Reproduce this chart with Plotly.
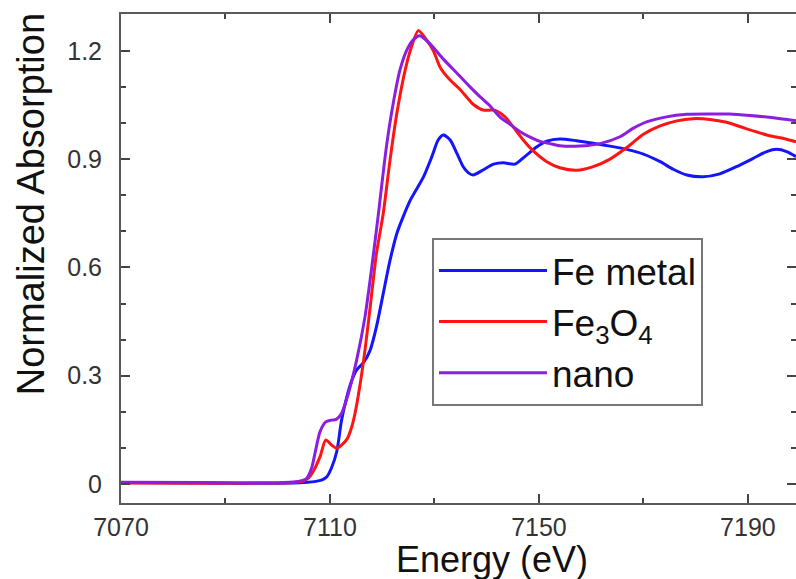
import plotly.graph_objects as go

# ---------------- data ----------------
fe_x = [7070, 7085, 7100, 7105, 7107.5, 7108.7, 7109.4, 7110.3, 7111.3, 7112.2, 7113.2,
        7114.0, 7115.1, 7116.4, 7117.7, 7118.9, 7120.2, 7121.5, 7122.8, 7124.0, 7125.4,
        7127.9, 7129.5, 7130.7, 7131.7, 7133.0, 7134.3, 7135.5, 7136.5, 7137.4, 7139.3,
        7141.3, 7143.2, 7145.4, 7147.3, 7149.6, 7151.5, 7154.0, 7157.2, 7160.4, 7163.6,
        7166.8, 7170.0, 7173.2, 7175.7, 7178.3, 7181.4, 7184.6, 7187.8, 7191.0, 7193.6,
        7195.5, 7197.4, 7199.2]
fe_y = [0.004, 0.003, 0.002, 0.004, 0.008, 0.013, 0.02, 0.045, 0.09, 0.175, 0.24,
        0.28, 0.316, 0.336, 0.371, 0.436, 0.528, 0.62, 0.694, 0.74, 0.787,
        0.851, 0.907, 0.953, 0.967, 0.953, 0.916, 0.879, 0.862, 0.856, 0.87,
        0.886, 0.89, 0.886, 0.907, 0.934, 0.95, 0.956, 0.951, 0.944, 0.936,
        0.927, 0.914, 0.893, 0.872, 0.856, 0.851, 0.859, 0.879, 0.902, 0.921,
        0.927, 0.921, 0.907]

fe3o4_x = [7070, 7085, 7100, 7103.5, 7104.9, 7106.0, 7106.8, 7108.1, 7109.2, 7110.3,
           7111.3, 7112.2, 7113.3, 7114.2, 7114.8, 7115.7, 7116.7, 7117.7, 7118.9, 7120.2,
           7121.5, 7122.8, 7124.4, 7125.6, 7126.9, 7128.5, 7129.8, 7131.1, 7133.0, 7134.9,
           7137.4, 7139.3, 7141.6, 7143.5, 7145.4, 7147.0, 7148.6, 7151.5, 7154.0, 7157.2,
           7160.4, 7163.6, 7166.8, 7170.0, 7173.2, 7176.4, 7179.5, 7182.7, 7185.9, 7189.5,
           7193.6, 7197.4, 7199.2]
fe3o4_y = [0.003, 0.002, 0.003, 0.005, 0.008, 0.018, 0.035, 0.076, 0.122, 0.108,
           0.099, 0.108, 0.125, 0.16, 0.196, 0.27, 0.371, 0.491, 0.639, 0.75,
           0.898, 1.027, 1.147, 1.211, 1.256, 1.23, 1.2, 1.154, 1.119, 1.093,
           1.052, 1.036, 1.035, 1.017, 0.983, 0.953, 0.927, 0.893, 0.876, 0.869,
           0.879, 0.900, 0.932, 0.969, 0.992, 1.006, 1.012, 1.010, 1.002, 0.985,
           0.967, 0.955, 0.948]

nano_x = [7070, 7085, 7100, 7103.5, 7105.5, 7106.5, 7107.2, 7108.1, 7109.2, 7110.3,
          7111.2, 7112.2, 7113.5, 7115.1, 7116.7, 7118.0, 7119.2, 7120.8, 7122.1, 7123.4,
          7124.7, 7125.9, 7127.2, 7129.1, 7131.7, 7134.5, 7136.8, 7138.7, 7140.6, 7142.5,
          7144.4, 7146.4, 7148.3, 7150.2, 7152.1, 7154.0, 7157.8, 7161.7, 7165.5, 7168.0,
          7170.6, 7174.4, 7178.3, 7182.7, 7186.5, 7190.4, 7194.5, 7199.2]
nano_y = [0.005, 0.004, 0.003, 0.006, 0.015, 0.045, 0.09, 0.145, 0.172, 0.177,
          0.179, 0.195, 0.25, 0.343, 0.463, 0.60, 0.74, 0.934, 1.054, 1.147,
          1.202, 1.23, 1.242, 1.22, 1.177, 1.135, 1.10, 1.073, 1.048, 1.017,
          0.997, 0.976, 0.961, 0.949, 0.943, 0.937, 0.936, 0.943, 0.962, 0.985,
          1.003, 1.017, 1.024, 1.025, 1.025, 1.021, 1.015, 1.006]

series_names = ["Fe metal", "Fe<sub>3</sub>O<sub>4</sub>", "nano"]
series_colors = ["#1414ff", "#ff1414", "#8c1ee0"]

x_tickvals = [7070, 7110, 7150, 7190]
y_tickvals = [0, 0.3, 0.6, 0.9, 1.2]
y_ticktext = ["0", "0.3", "0.6", "0.9", "1.2"]

X_RANGE = [7070, 7199.2]
Y_RANGE = [-0.0526, 1.302]

FONT = "Liberation Sans, Arial, Helvetica, sans-serif"

fig = go.Figure()
for xs, ys, name, col in zip([fe_x, fe3o4_x, nano_x], [fe_y, fe3o4_y, nano_y],
                             series_names, series_colors):
    fig.add_trace(go.Scatter(x=xs, y=ys, mode="lines", name=name,
                             line=dict(color=col, width=3, shape="spline", smoothing=0.7)))

# empty trace so the right-hand tick axis (ticks only, no spine) is drawn
fig.add_trace(go.Scatter(x=[None], y=[None], yaxis="y2", showlegend=False,
                         hoverinfo="skip", mode="lines"))

tick_style = dict(ticks="inside", ticklen=9, tickwidth=1.5, tickcolor="#444")
minor_style = dict(ticks="inside", ticklen=5, tickwidth=1.5, tickcolor="#444", showgrid=False)
tickfont = dict(family=FONT, size=25, color="#333")

fig.update_layout(
    width=796, height=579,
    margin=dict(l=121, r=0, t=14, b=76),
    paper_bgcolor="white", plot_bgcolor="white",
    font=dict(family=FONT, color="#111"),
    xaxis=dict(range=X_RANGE, tickvals=x_tickvals, showline=True, linecolor="#5a5a5a",
               linewidth=2, mirror="ticks", showgrid=False, zeroline=False,
               tickfont=tickfont, ticklabelstandoff=1,
               minor=dict(dtick=20, tick0=7070, **minor_style), **tick_style),
    yaxis=dict(range=Y_RANGE, tickvals=y_tickvals, ticktext=y_ticktext, showline=True,
               linecolor="#5a5a5a", linewidth=2, mirror=False, showgrid=False,
               zeroline=False, tickfont=tickfont, ticklabelstandoff=12,
               minor=dict(dtick=0.1, tick0=0, **minor_style), **tick_style),
    yaxis2=dict(range=Y_RANGE, overlaying="y", side="right", tickvals=y_tickvals,
                showticklabels=False, showline=False, showgrid=False, zeroline=False,
                minor=dict(dtick=0.1, tick0=0, **minor_style), **tick_style),
    legend=dict(x=0.4607, y=0.542, xanchor="left", yanchor="top",
                bgcolor="white", bordercolor="#777", borderwidth=2,
                font=dict(family=FONT, size=37, color="#111"),
                itemwidth=108, tracegroupgap=0),
    annotations=[
        dict(text="Energy (eV)", xref="paper", yref="paper", x=0.550, y=-0.116,
             xanchor="center", yanchor="middle", showarrow=False,
             font=dict(family=FONT, size=36, color="#111")),
        dict(text="Normalized Absorption", xref="paper", yref="paper", x=-0.134, y=0.610,
             xanchor="center", yanchor="middle", textangle=-90, showarrow=False,
             font=dict(family=FONT, size=38, color="#111")),
    ],
)

fig.write_html("out.html")
